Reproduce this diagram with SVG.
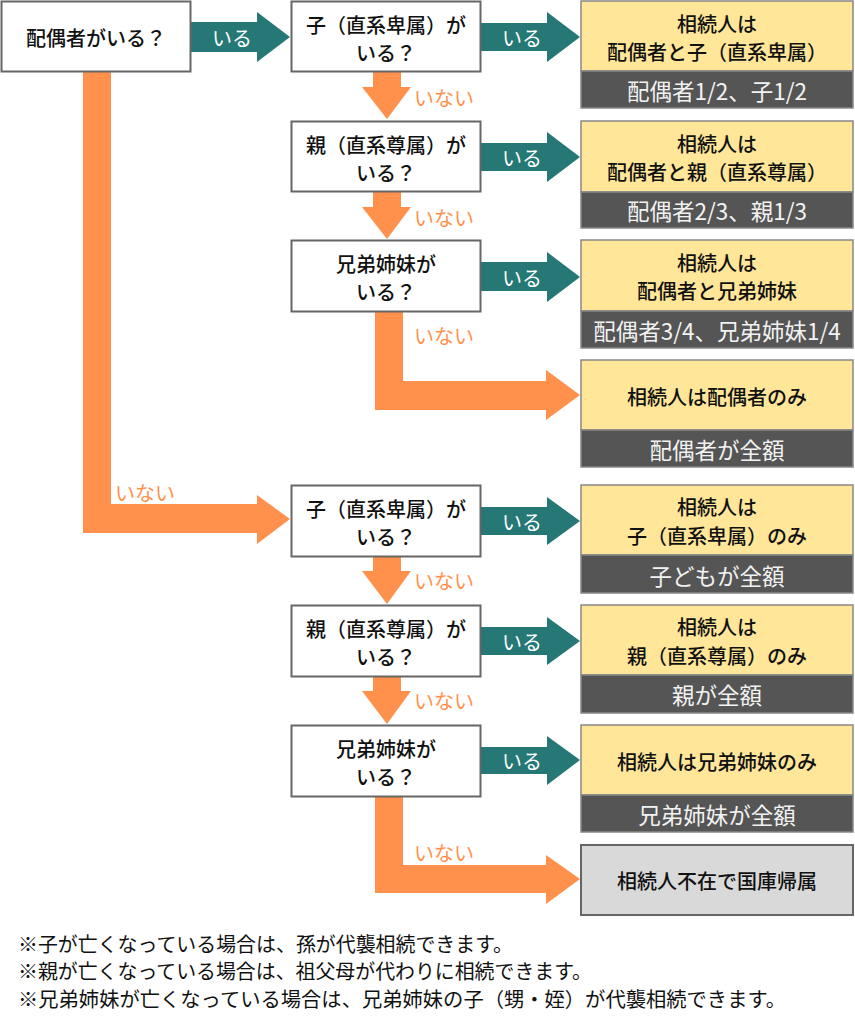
<svg xmlns="http://www.w3.org/2000/svg" width="855" height="1024" viewBox="0 0 855 1024">
<style>
text{font-family:"Noto Sans CJK JP","Noto Sans CJK SC",sans-serif;dominant-baseline:central;text-anchor:middle;font-weight:500}
.q{fill:#fff;stroke:#666;stroke-width:2}
.y{fill:#FFE699;stroke:#888;stroke-width:1.5}
.d{fill:#555;stroke:#888;stroke-width:1.5}
.g{fill:#D9D9D9;stroke:#666;stroke-width:2}
.t{font-size:20px;fill:#111}
.w{font-size:22.5px;fill:#F2F2F2;font-weight:400}
.teal{fill:#257876}
.or{fill:#FF914D}
.lt{font-size:20px;fill:#fff;font-weight:400}
.lo{font-size:20px;fill:#FF914D;text-anchor:start;font-weight:400}
.note{font-size:20px;fill:#111;text-anchor:start;font-weight:400}
</style>
<rect width="855" height="1024" fill="#fff"/>
<g id="connectors">
  <polygon class="teal" points="191,22 257,22 257,12 290,37 257,62 257,52 191,52"/>
  <text class="lt" x="232" y="37">いる</text>
  <polygon class="teal" points="481,23 547,23 547,12 580,37 547,62 547,51 481,51"/>
  <text class="lt" x="522" y="37">いる</text>
  <polygon class="teal" points="481,143 547,143 547,132 580,157 547,182 547,171 481,171"/>
  <text class="lt" x="522" y="157">いる</text>
  <polygon class="teal" points="481,262 547,262 547,252 580,277 547,302 547,291 481,291"/>
  <text class="lt" x="522" y="277">いる</text>
  <polygon class="teal" points="481,507 547,507 547,497 580,521 547,545 547,535 481,535"/>
  <text class="lt" x="522" y="521">いる</text>
  <polygon class="teal" points="481,627 547,627 547,617 580,641 547,665 547,655 481,655"/>
  <text class="lt" x="522" y="641">いる</text>
  <polygon class="teal" points="481,747 547,747 547,736 580,760 547,785 547,774 481,774"/>
  <text class="lt" x="522" y="760">いる</text>

  <polygon class="or" points="373,72 401,72 401,87 411,87 387,119 362,87 373,87"/>
  <text class="lo" x="414" y="97">いない</text>
  <polygon class="or" points="373,192 401,192 401,207 411,207 387,239 362,207 373,207"/>
  <text class="lo" x="414" y="217">いない</text>
  <polygon class="or" points="375,312 403,312 403,381 546,381 546,370 580,395 546,420 546,410 375,410"/>
  <text class="lo" x="414" y="335">いない</text>

  <polygon class="or" points="83,72 111,72 111,504 257,504 257,495 290,519 257,544 257,533 83,533"/>
  <text class="lo" x="115" y="492">いない</text>

  <polygon class="or" points="373,557 401,557 401,571 411,571 387,604 362,571 373,571"/>
  <text class="lo" x="414" y="580">いない</text>
  <polygon class="or" points="373,677 401,677 401,691 411,691 387,724 362,691 373,691"/>
  <text class="lo" x="414" y="700">いない</text>
  <polygon class="or" points="375,797 403,797 403,865 546,865 546,855 580,879 546,904 546,893 375,893"/>
  <text class="lo" x="414" y="852">いない</text>
</g>

<g id="q0"><rect class="q" x="1.5" y="1.5" width="189" height="70"/><text class="t" x="96" y="37">配偶者がいる？</text></g>
<g id="q1"><rect class="q" x="291.5" y="1.5" width="189" height="70"/><text class="t" x="386" y="24">子（直系卑属）が</text><text class="t" x="386" y="52">いる？</text></g>
<g id="q2"><rect class="q" x="291.5" y="121.5" width="189" height="70"/><text class="t" x="386" y="144">親（直系尊属）が</text><text class="t" x="386" y="172">いる？</text></g>
<g id="q3"><rect class="q" x="291.5" y="240.5" width="189" height="71"/><text class="t" x="386" y="263">兄弟姉妹が</text><text class="t" x="386" y="291">いる？</text></g>
<g id="q4"><rect class="q" x="291.5" y="485.5" width="189" height="71"/><text class="t" x="386" y="508">子（直系卑属）が</text><text class="t" x="386" y="536">いる？</text></g>
<g id="q5"><rect class="q" x="291.5" y="605.5" width="189" height="71"/><text class="t" x="386" y="628">親（直系尊属）が</text><text class="t" x="386" y="656">いる？</text></g>
<g id="q6"><rect class="q" x="291.5" y="725.5" width="189" height="71"/><text class="t" x="386" y="748">兄弟姉妹が</text><text class="t" x="386" y="776">いる？</text></g>

<g id="r1"><rect class="y" x="581" y="1" width="272" height="70"/><rect class="d" x="581" y="71" width="272" height="37"/>
<text class="t" x="717" y="23">相続人は</text><text class="t" x="717" y="51">配偶者と子（直系卑属）</text><text class="w" x="717" y="90">配偶者1/2、子1/2</text></g>
<g id="r2"><rect class="y" x="581" y="121" width="272" height="71"/><rect class="d" x="581" y="192" width="272" height="36"/>
<text class="t" x="717" y="143">相続人は</text><text class="t" x="717" y="171">配偶者と親（直系尊属）</text><text class="w" x="717" y="210">配偶者2/3、親1/3</text></g>
<g id="r3"><rect class="y" x="581" y="240" width="272" height="71"/><rect class="d" x="581" y="311" width="272" height="37"/>
<text class="t" x="717" y="262">相続人は</text><text class="t" x="717" y="290">配偶者と兄弟姉妹</text><text class="w" x="717" y="330">配偶者3/4、兄弟姉妹1/4</text></g>
<g id="r4"><rect class="y" x="581" y="360" width="272" height="70"/><rect class="d" x="581" y="430" width="272" height="37"/>
<text class="t" x="717" y="396">相続人は配偶者のみ</text><text class="w" x="717" y="449">配偶者が全額</text></g>
<g id="r5"><rect class="y" x="581" y="485" width="272" height="70"/><rect class="d" x="581" y="555" width="272" height="38"/>
<text class="t" x="717" y="506">相続人は</text><text class="t" x="717" y="535">子（直系卑属）のみ</text><text class="w" x="717" y="575">子どもが全額</text></g>
<g id="r6"><rect class="y" x="581" y="605" width="272" height="70"/><rect class="d" x="581" y="675" width="272" height="38"/>
<text class="t" x="717" y="626">相続人は</text><text class="t" x="717" y="655">親（直系尊属）のみ</text><text class="w" x="717" y="694">親が全額</text></g>
<g id="r7"><rect class="y" x="581" y="725" width="272" height="70"/><rect class="d" x="581" y="795" width="272" height="37"/>
<text class="t" x="717" y="761">相続人は兄弟姉妹のみ</text><text class="w" x="717" y="814">兄弟姉妹が全額</text></g>
<g id="r8"><rect class="g" x="581" y="845" width="272" height="70"/>
<text class="t" x="717" y="880">相続人不在で国庫帰属</text></g>

<g id="notes">
<text class="note" x="18" y="943" textLength="495" lengthAdjust="spacingAndGlyphs">※子が亡くなっている場合は、孫が代襲相続できます。</text>
<text class="note" x="18" y="970" textLength="574" lengthAdjust="spacingAndGlyphs">※親が亡くなっている場合は、祖父母が代わりに相続できます。</text>
<text class="note" x="18" y="998" textLength="768" lengthAdjust="spacingAndGlyphs">※兄弟姉妹が亡くなっている場合は、兄弟姉妹の子（甥・姪）が代襲相続できます。</text>
</g>
</svg>
